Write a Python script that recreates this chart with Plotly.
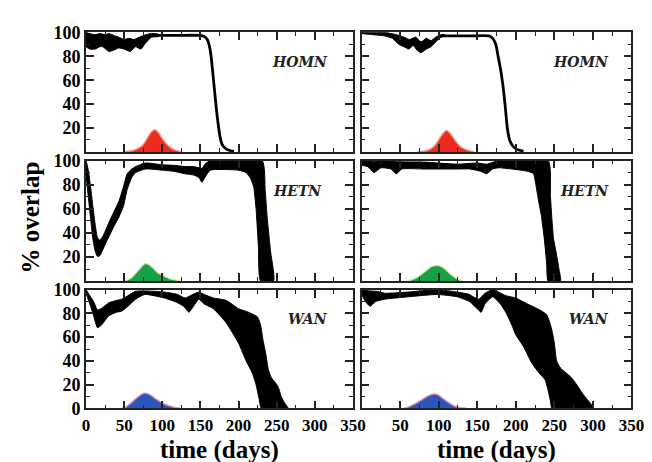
import plotly.graph_objects as go

W, H = 652, 462

# ---------------- data ----------------
panel_names = ["HOMN", "HOMN", "HETN", "HETN", "WAN", "WAN"]

# HOMN left
homn_l_up_t = [0, 5, 12, 18, 25, 30, 38, 43, 50, 56, 63, 70, 78, 86, 95]
homn_l_up_v = [100, 99, 98, 99, 98, 99, 97, 96, 94, 95, 94, 96, 98, 99, 98.5]
homn_l_lo_t = [0, 5, 12, 18, 22, 30, 36, 43, 50, 58, 65, 72, 78, 86, 95]
homn_l_lo_v = [88, 86, 86, 88, 88, 84, 85, 87, 86, 84, 88, 86, 91, 96, 96.5]
homn_l_line_t = [86, 120, 150, 155, 159, 162, 164, 166, 168, 170, 172, 174, 176, 178, 181, 185, 190, 194]
homn_l_line_v = [97.5, 97.5, 97.4, 96.5, 94, 88, 80, 68, 55, 42, 30, 20, 12, 7, 4, 2, 1, 0.5]

# HOMN right
homn_r_up_t = [0, 30, 45, 55, 62, 70, 77, 84, 90, 96, 103, 108]
homn_r_up_v = [100, 100, 98, 96, 94, 96, 92, 95, 93, 96, 98, 98]
homn_r_lo_t = [0, 15, 30, 40, 48, 55, 61, 67, 72, 77, 84, 90, 96, 103, 108]
homn_r_lo_v = [99, 98, 97, 95, 90, 88, 86, 89, 85, 83, 86, 88, 92, 96, 97]
homn_r_line_t = [103, 140, 165, 170, 174, 177, 180, 183, 186, 189, 192, 196, 202, 210]
homn_r_line_v = [97, 97, 97, 95, 90, 80, 70, 57, 40, 20, 10, 5, 2, 0.5]

# HETN left
hetn_l_up_t = [0, 3, 6, 9, 12, 15, 18, 22, 27, 31, 37, 43, 49, 54, 60, 65, 78, 100, 116, 130, 141, 148, 152, 156, 163, 231, 235, 238, 242, 246]
hetn_l_up_v = [100, 92, 78, 62, 47, 36, 34, 37, 44, 50, 58, 66, 78, 89, 93, 95, 98, 96.5, 96, 95, 95, 94, 93.5, 97, 100, 100, 75, 50, 25, 0]
hetn_l_lo_t = [0, 3, 6, 9, 12, 15, 18, 22, 27, 31, 37, 43, 49, 54, 60, 65, 78, 100, 116, 130, 141, 148, 152, 156, 163, 200, 210, 216, 220, 223, 226, 229]
hetn_l_lo_v = [88, 70, 52, 35, 25, 20.5, 21, 26, 33, 38, 46, 53, 62, 76, 86, 90, 93, 92, 91, 89, 88, 86, 82, 86, 92, 92, 90, 85, 78, 60, 30, 0]

# HETN right
hetn_r_up_t = [0, 10, 16, 25, 45, 81, 124, 150, 162, 178, 242, 245, 247, 249, 252, 256, 258]
hetn_r_up_v = [100, 100, 99, 100, 99, 98.7, 97, 98, 97, 100, 100, 70, 50, 35, 25, 10, 0]
hetn_r_lo_t = [0, 8, 16, 25, 38, 45, 52, 81, 124, 140, 155, 162, 170, 178, 216, 223, 226, 230, 233, 237, 240, 242]
hetn_r_lo_v = [96, 95, 90, 94, 93, 89, 93, 93, 93, 93, 91, 89, 93, 94, 91, 89, 80, 65, 55, 35, 15, 0]

# WAN left
wan_l_up_t = [0, 5, 10, 15, 20, 30, 40, 47, 55, 65, 77, 103, 120, 130, 140, 148, 155, 167, 184, 200, 213, 225, 229, 232, 236, 239, 243, 248, 252, 256, 260, 265]
wan_l_up_v = [100, 95, 90, 83, 84, 89, 91, 92, 95, 98.6, 99, 98, 96, 93, 96, 98, 96, 93, 91, 84, 81, 77, 70, 58, 45, 33, 26, 22, 18, 10, 5, 0]
wan_l_lo_t = [0, 5, 10, 15, 20, 30, 40, 47, 55, 65, 77, 103, 120, 128, 135, 141, 148, 155, 167, 184, 200, 210, 218, 223, 227, 230]
wan_l_lo_v = [97, 88, 78, 68, 70, 78, 81, 82, 86, 92, 96, 93, 89, 86, 81, 86, 92, 88, 84, 72, 55, 40, 30, 20, 8, 0]

# WAN right
wan_r_up_t = [0, 10, 20, 30, 60, 98, 124, 140, 145, 152, 160, 170, 187, 200, 215, 228, 240, 246, 250, 253, 258, 265, 272, 280, 286, 292, 297, 301]
wan_r_up_v = [100, 99, 98.6, 97, 98, 100, 98, 96, 94, 92, 97, 100, 95, 93, 88, 84, 79, 68, 55, 40, 34, 30, 26, 19, 13, 8, 4, 0]
wan_r_lo_t = [0, 5, 11, 18, 30, 60, 98, 124, 140, 145, 150, 155, 160, 170, 180, 187, 195, 200, 210, 221, 230, 238, 242, 245, 247]
wan_r_lo_v = [96, 90, 86, 90, 92, 94, 96, 94, 90, 87, 84, 81, 88, 94, 88, 81, 70, 62, 52, 38, 30, 24, 15, 6, 0]

# coloured epidemic bumps
homn_l_bump_t = [50, 55, 60, 65, 70, 75, 80, 85, 90, 95, 100, 105, 110, 115, 120, 125]
homn_l_bump_v = [0, 0.5, 1, 2, 3.5, 6, 11, 16, 18.5, 16, 11, 7, 4, 2, 1, 0]
homn_r_bump_t = [72, 78, 84, 88, 92, 96, 100, 105, 110, 115, 120, 125, 130, 135, 140, 146]
homn_r_bump_v = [0, 0.5, 1, 2, 3.5, 6, 10, 15, 18, 15.5, 10.5, 6.5, 3.5, 2, 1, 0]
hetn_l_bump_t = [48, 52, 56, 60, 65, 70, 75, 78, 82, 88, 94, 100, 105, 110, 118, 126]
hetn_l_bump_v = [0, 0.5, 1.5, 3, 6.5, 10, 13.5, 14.5, 14, 11, 7, 5, 3.5, 2, 1, 0]
hetn_r_bump_t = [58, 62, 66, 70, 75, 80, 85, 90, 95, 100, 105, 110, 115, 120, 125, 132]
hetn_r_bump_v = [0, 0.5, 1.5, 2.5, 4.5, 7, 9.5, 12, 13, 13, 11.5, 9, 6, 3.5, 1.5, 0]
wan_l_bump_t = [47, 52, 56, 60, 65, 70, 75, 80, 85, 90, 95, 100, 105, 110, 115, 123]
wan_l_bump_v = [0, 1, 3, 5, 8, 10.5, 12.5, 12.5, 11, 8.5, 6.5, 4.5, 3, 2, 1, 0]
wan_r_bump_t = [55, 60, 65, 70, 75, 80, 85, 90, 95, 100, 105, 110, 115, 120, 125, 136]
wan_r_bump_v = [0, 1, 2.5, 4, 6, 8, 10, 11.5, 12, 11, 8.5, 6, 4, 2, 1, 0]

x_ticks_left = [0, 50, 100, 150, 200, 250, 300, 350]
x_ticks_right = [50, 100, 150, 200, 250, 300, 350]
y_ticks_top = [20, 40, 60, 80, 100]
y_ticks_bottom = [0, 20, 40, 60, 80, 100]

# ---------------- figure ----------------
panels = [
    (homn_l_up_t, homn_l_up_v, homn_l_lo_t, homn_l_lo_v, (homn_l_line_t, homn_l_line_v), homn_l_bump_t, homn_l_bump_v),
    (homn_r_up_t, homn_r_up_v, homn_r_lo_t, homn_r_lo_v, (homn_r_line_t, homn_r_line_v), homn_r_bump_t, homn_r_bump_v),
    (hetn_l_up_t, hetn_l_up_v, hetn_l_lo_t, hetn_l_lo_v, None, hetn_l_bump_t, hetn_l_bump_v),
    (hetn_r_up_t, hetn_r_up_v, hetn_r_lo_t, hetn_r_lo_v, None, hetn_r_bump_t, hetn_r_bump_v),
    (wan_l_up_t, wan_l_up_v, wan_l_lo_t, wan_l_lo_v, None, wan_l_bump_t, wan_l_bump_v),
    (wan_r_up_t, wan_r_up_v, wan_r_lo_t, wan_r_lo_v, None, wan_r_bump_t, wan_r_bump_v),
]
bump_fill = ["rgb(236,42,32)", "rgb(236,42,32)", "rgb(22,160,72)", "rgb(22,160,72)", "rgb(42,86,188)", "rgb(42,86,188)"]
bump_edge = ["rgba(246,140,120,0.9)", "rgba(246,140,120,0.9)", "rgba(225,232,170,0.9)", "rgba(225,232,170,0.9)", "rgba(232,140,175,0.9)", "rgba(232,140,175,0.9)"]

xdom = [[76 / W, 350 / W], [359 / W, 636 / W]]
rows_px = [(15, 140), (149, 275), (284, 408)]
ydom = [[1 - b / H, 1 - t / H] for (t, b) in rows_px]

fig = go.Figure()
layout = dict(
    width=W, height=H, margin=dict(l=0, r=0, t=0, b=0),
    paper_bgcolor="white", plot_bgcolor="white", showlegend=False,
)

xtickfont = dict(family="Liberation Serif", size=17, color="black", weight="bold")
ytickfont = dict(family="Liberation Serif", size=18, color="black", weight="bold")

for i, (ut, uv, lt, lv, line, bt, bv) in enumerate(panels):
    r, c = divmod(i, 2)
    n = i + 1
    xa = "x" if n == 1 else f"x{n}"
    ya = "y" if n == 1 else f"y{n}"
    # bump
    fig.add_trace(go.Scatter(x=bt, y=bv, xaxis=xa, yaxis=ya, mode="lines", fill="tozeroy",
                             fillcolor=bump_fill[i], line=dict(color=bump_edge[i], width=1.5, shape="spline", smoothing=0.8),
                             hoverinfo="skip"))
    # band
    fig.add_trace(go.Scatter(x=ut + lt[::-1], y=uv + lv[::-1], xaxis=xa, yaxis=ya, mode="lines",
                             fill="toself", fillcolor="black",
                             line=dict(color="black", width=1, shape="spline", smoothing=0.5),
                             hoverinfo="skip"))
    if line is not None:
        fig.add_trace(go.Scatter(x=line[0], y=line[1], xaxis=xa, yaxis=ya, mode="lines",
                                 line=dict(color="black", width=2.8, shape="spline", smoothing=0.6),
                                 hoverinfo="skip"))

    xkey = "xaxis" if n == 1 else f"xaxis{n}"
    ykey = "yaxis" if n == 1 else f"yaxis{n}"
    show_x = (r == 2)
    show_y = (c == 0)
    layout[xkey] = dict(
        domain=xdom[c], anchor=ya, range=[0, 350], showgrid=False, zeroline=False,
        showline=True, linecolor="#222", linewidth=1.6, mirror="ticks",
        ticks="inside", ticklen=8, tickwidth=1.5, tickcolor="#222",
        tickmode="array", tickvals=(x_ticks_left if c == 0 else x_ticks_right),
        showticklabels=show_x, tickfont=xtickfont,
        minor=dict(ticks="inside", ticklen=4, tickwidth=1.3, tickcolor="#222", dtick=25, tick0=0, showgrid=False),
    )
    layout[ykey] = dict(
        domain=ydom[r], anchor=xa, range=[0, 100], showgrid=False, zeroline=False,
        showline=True, linecolor="#222", linewidth=1.6, mirror="ticks",
        ticks="inside", ticklen=8, tickwidth=1.5, tickcolor="#222",
        tickmode="array", tickvals=(y_ticks_bottom if r == 2 else y_ticks_top),
        showticklabels=show_y, tickfont=ytickfont,
        minor=dict(ticks="inside", ticklen=4, tickwidth=1.3, tickcolor="#222", dtick=10, tick0=0, showgrid=False),
    )

annotations = []
label_x = [320, 324, 312, 324, 320, 324]
for i, name in enumerate(panel_names):
    n = i + 1
    annotations.append(dict(
        text=name, x=label_x[i], y=75, xref=("x" if n == 1 else f"x{n}"), yref=("y" if n == 1 else f"y{n}"),
        xanchor="right", yanchor="middle", showarrow=False,
        font=dict(family="DejaVu Serif", size=14, color="#222", weight="bold", style="italic"),
    ))

titlefont = dict(family="Liberation Serif", size=25, color="black", weight="bold")
annotations.append(dict(text="% overlap", x=20 / W, y=1 - 208 / H, xref="paper", yref="paper",
                        textangle=-90, showarrow=False, font=titlefont, xanchor="center", yanchor="middle"))
annotations.append(dict(text="time (days)", x=213 / W, y=1 - 435 / H, xref="paper", yref="paper",
                        showarrow=False, font=titlefont, xanchor="center", yanchor="top"))
annotations.append(dict(text="time (days)", x=497 / W, y=1 - 435 / H, xref="paper", yref="paper",
                        showarrow=False, font=titlefont, xanchor="center", yanchor="top"))
layout["annotations"] = annotations

fig.update_layout(**layout)
fig.write_html("out.html")
